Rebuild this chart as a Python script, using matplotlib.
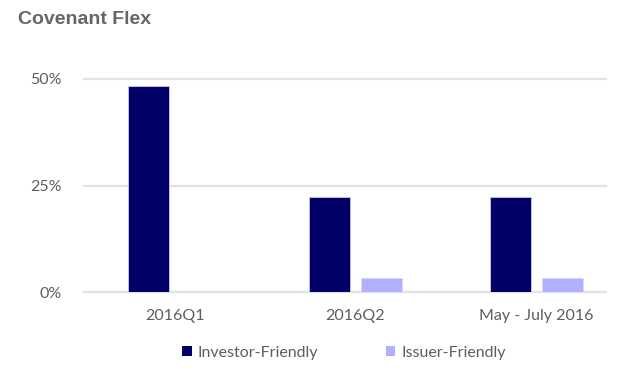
import numpy as np
import matplotlib.pyplot as plt
from matplotlib.patches import Patch

plt.rcParams['font.family'] = ['Lato', 'DejaVu Sans']

categories = ['2016Q1', '2016Q2', 'May - July 2016']
investor_friendly = [48.4, 22.3, 22.3]
issuer_friendly = [0.0, 3.3, 3.3]
yticks = [0, 25, 50]

dark = '#000066'
light = '#b0b0ff'
text_gray = '#5e5e5e'

fig = plt.figure(figsize=(6.44, 3.77), dpi=100)
ax = fig.add_axes([84 / 644, 1 - 292 / 377, 522 / 644, 213 / 377])

x = np.arange(len(categories))
w = 0.226
off = 0.144
ax.bar(x - off, investor_friendly, width=w, color=dark, edgecolor='#c8c8ee', linewidth=0.6, zorder=3)
ax.bar(x + off, issuer_friendly, width=w, color=light, edgecolor='#d8d8ff', linewidth=0.6, zorder=3)

ax.set_xlim(-0.5, 2.384)
ax.set_ylim(0, 50)
ax.set_yticks(yticks)
ax.set_yticklabels([f'{v}%' for v in yticks])
ax.set_xticks(x)
ax.set_xticklabels(categories)
ax.tick_params(axis='both', length=0, labelsize=11.5, colors=text_gray)
ax.tick_params(axis='x', pad=12)
ax.tick_params(axis='y', pad=16)
ax.yaxis.grid(True, color='#e2e2e2', linewidth=1.6, zorder=0)
ax.set_axisbelow(True)
for s in ax.spines.values():
    s.set_visible(False)
for line in ax.get_ygridlines():
    line.set_clip_on(False)

fig.text(18 / 644, 1 - 20 / 377, 'Covenant Flex', fontsize=14, fontweight='bold',
         family=['Liberation Sans', 'DejaVu Sans'],
         color='#666666', va='center', ha='left')

handles = [Patch(facecolor=dark, label='Investor-Friendly'),
           Patch(facecolor=light, label='Issuer-Friendly')]
fig.legend(handles=handles, loc='center', bbox_to_anchor=(344 / 644, 1 - 353 / 377),
           ncol=2, frameon=False, fontsize=11.5, labelcolor=text_gray,
           handlelength=0.6, handleheight=0.6, handletextpad=0.4, columnspacing=4.2)

fig.savefig('out.png', dpi=100)
